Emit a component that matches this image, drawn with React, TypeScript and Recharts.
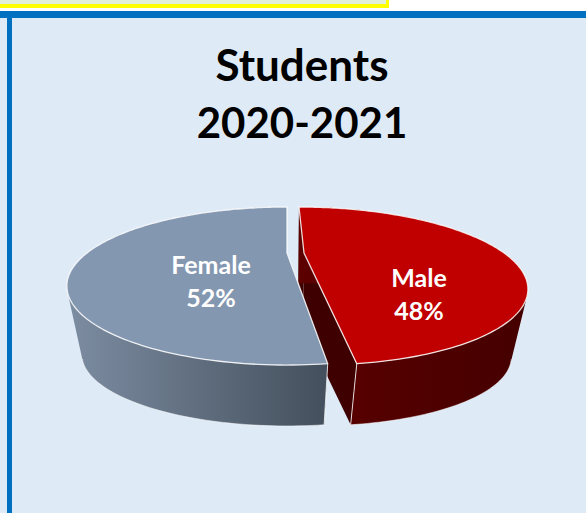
import React from 'react';
import { PieChart, Pie } from 'recharts';

const names = ['Male', 'Female'];
const values = [48.1, 51.9];
const chartData = names.map((name, i) => ({ name, value: values[i] }));

const TOP_COLORS: Record<string, string> = { Male: '#C00000', Female: '#8497B0' };
const WALL_STOPS: Record<string, [string, string]> = {
  Male: ['#5C0000', '#450000'],
  Female: ['#7D8DA2', '#434F5C'],
};
const CUT_COLORS: Record<string, string> = { Male: '#3E0000', Female: '#434F5C' };
const LABEL_POS: Record<string, [number, number]> = { Male: [419, 295], Female: [211, 282] };
// the male slice is pulled out to the right, in disc units
const EXPLODE: Record<string, number> = { Male: 0.085, Female: 0 };

const PERSPECTIVE = 0.418;
const FLATTEN = 0.326;
const BOTTOM = { scale: 0.94, flatten: 0.319, k: 0.4, dy: 73 };

const RAD = Math.PI / 180;

type Pt = [number, number];

const project = (cx: number, cy: number, A: number, u: number, v: number, layer: 'top' | 'bottom'): Pt => {
  if (layer === 'top') {
    const d = 1 + PERSPECTIVE * v;
    return [cx + (A * u) / d, cy - (A * FLATTEN * v) / d];
  }
  const a = A * BOTTOM.scale;
  const d = 1 + BOTTOM.k * v;
  return [cx + (a * u) / d, cy + BOTTOM.dy - (a * BOTTOM.flatten * v) / d];
};

const toPath = (pts: Pt[], close = true) =>
  pts.map((p, i) => `${i ? 'L' : 'M'}${p[0].toFixed(2)} ${p[1].toFixed(2)}`).join(' ') + (close ? ' Z' : '');

// keep every quad wound the same way so they merge in one nonzero fill
const quad = (a: Pt, b: Pt, c: Pt, d: Pt) => {
  const pts = [a, b, c, d];
  const area = pts.reduce((s, p, i) => {
    const q = pts[(i + 1) % 4];
    return s + p[0] * q[1] - q[0] * p[1];
  }, 0);
  return toPath(area < 0 ? pts.reverse() : pts);
};

const Slice3D = (props: any) => {
  const { cx, cy, outerRadius, startAngle, endAngle } = props;
  const name: string = props.name ?? props.payload?.name;
  const off = EXPLODE[name];
  const steps = 160;
  const angleAt = (i: number) => (startAngle + ((endAngle - startAngle) * i) / steps) * RAD;
  const arc = (layer: 'top' | 'bottom') => {
    const pts: Pt[] = [];
    for (let i = 0; i <= steps; i++) {
      const a = angleAt(i);
      pts.push(project(cx, cy, outerRadius, Math.cos(a) + off, Math.sin(a), layer));
    }
    return pts;
  };
  const topArc = arc('top');
  const botArc = arc('bottom');
  const topC = project(cx, cy, outerRadius, off, 0, 'top');
  const botC = project(cx, cy, outerRadius, off, 0, 'bottom');
  const gradId = `wall-${name}`;
  const xs = topArc.map((p) => p[0]);
  const minX = Math.min(...xs);
  const maxX = Math.max(...xs);
  const wall = topArc
    .slice(0, -1)
    .map((p, i) => quad(p, topArc[i + 1], botArc[i + 1], botArc[i]))
    .join(' ');
  const cutStart = toPath([topC, topArc[0], botArc[0], botC]);
  const cutEnd = toPath([topC, topArc[steps], botArc[steps], botC]);
  const frontFoot = botArc.filter((_, i) => Math.sin(angleAt(i)) < -0.45);
  const cornerIdx = name === 'Male' ? steps : 0;
  return (
    <g>
      <defs>
        <linearGradient id={gradId} gradientUnits="userSpaceOnUse" x1={minX} y1={0} x2={name === 'Male' ? maxX : 327} y2={0}>
          <stop offset="0%" stopColor={WALL_STOPS[name][0]} />
          <stop offset="100%" stopColor={WALL_STOPS[name][1]} />
        </linearGradient>
      </defs>
      <path d={cutStart} fill={CUT_COLORS[name]} />
      <path d={cutEnd} fill={CUT_COLORS[name]} />
      <path d={wall} fill={`url(#${gradId})`} fillRule="nonzero" />
      <path d={toPath(frontFoot, false)} fill="none" stroke="#FFFFFF" strokeOpacity={0.5} strokeWidth={1} />
      <path
        d={toPath([topArc[cornerIdx], botArc[cornerIdx]], false)}
        fill="none"
        stroke="#FFFFFF"
        strokeOpacity={0.8}
        strokeWidth={1}
      />
      <path
        d={toPath([topC, ...topArc])}
        fill={TOP_COLORS[name]}
        stroke="#FFFFFF"
        strokeOpacity={0.85}
        strokeWidth={1.3}
        strokeLinejoin="round"
      />
    </g>
  );
};

const renderLabel = (props: any) => {
  const name: string = props.name ?? props.payload?.name;
  const [x, y] = LABEL_POS[name];
  return (
    <text
      x={x}
      y={y}
      textAnchor="middle"
      fill="#FFFFFF"
      fontFamily="Lato, 'Open Sans', sans-serif"
      fontWeight={700}
      fontSize={25}
    >
      <tspan x={x} dy={-8}>{name}</tspan>
      <tspan x={x} dy={33}>{`${Math.round(props.value)}%`}</tspan>
    </text>
  );
};

const App: React.FC = () => {
  return (
    <div style={{ position: 'absolute', left: 0, top: 0, width: 586, height: 513, overflow: 'hidden', background: '#FFFFFF' }}>
      {/* bit of the box above the panel */}
      <div style={{ position: 'absolute', left: 0, top: 0, width: 386, height: 4, background: '#E2EFD9', borderRight: '3px solid #FFFF00', borderBottom: '4px solid #FFFF00' }} />
      {/* light blue panel with its blue frame */}
      <div style={{ position: 'absolute', left: 0, top: 11, width: 586, height: 502, background: '#DEEAF6', borderTop: '7px solid #0070C0', boxSizing: 'border-box' }} />
      <div style={{ position: 'absolute', left: 7, top: 11, width: 5, height: 502, background: '#0070C0' }} />
      <div style={{ position: 'absolute', left: 0, top: 35, width: 586, textAlign: 'center', paddingLeft: 18, boxSizing: 'border-box', fontFamily: "Lato, 'Open Sans', sans-serif", fontWeight: 700, lineHeight: '58px', color: '#000000' }}>
        <div style={{ fontSize: 44 }}>Students</div>
        <div style={{ fontSize: 42 }}>2020-2021</div>
      </div>
      <div style={{ position: 'absolute', left: 0, top: 0 }}>
        <PieChart width={586} height={513} margin={{ top: 0, right: 0, bottom: 0, left: 0 }}>
          <Pie
            data={chartData}
            dataKey="value"
            nameKey="name"
            cx={287}
            cy={253}
            innerRadius={0}
            outerRadius={200}
            startAngle={90}
            endAngle={-270}
            stroke="none"
            shape={Slice3D}
            label={renderLabel}
            labelLine={false}
            isAnimationActive={false}
          />
        </PieChart>
      </div>
    </div>
  );
};

export default App;
